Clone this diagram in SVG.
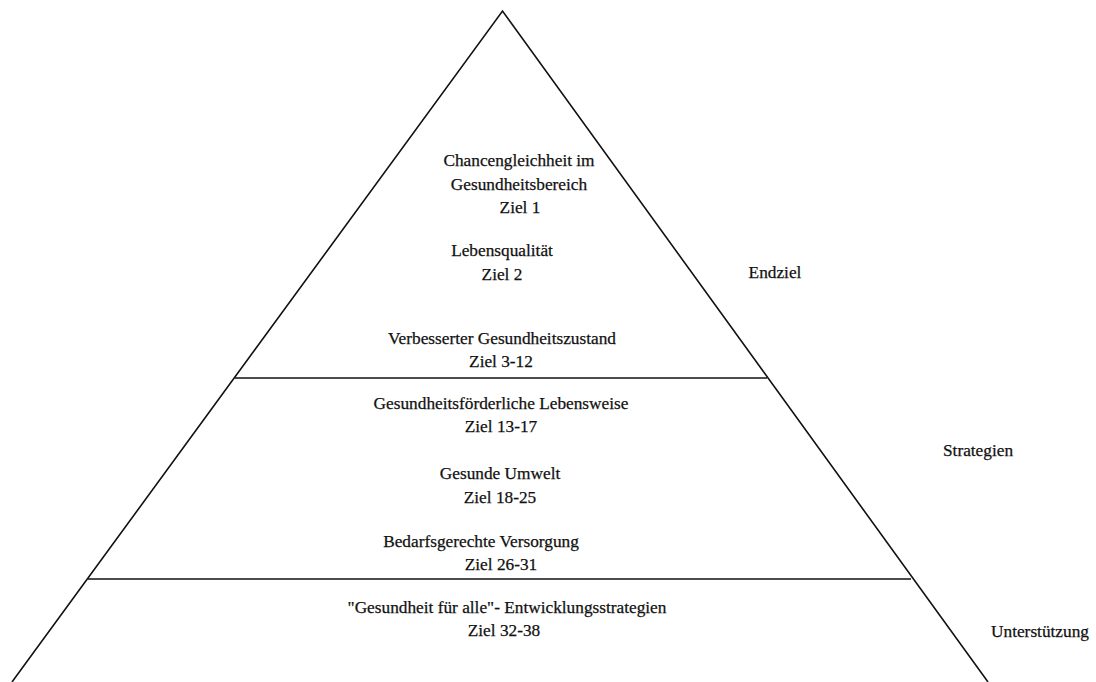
<svg xmlns="http://www.w3.org/2000/svg" width="1096" height="682" viewBox="0 0 1096 682">
<style>
text{font-family:"Liberation Serif","Times New Roman",serif;font-size:17.3px;fill:#111;stroke:#111;stroke-width:0.25;text-anchor:middle}
.ln{stroke:#111;stroke-width:1.6;fill:none}
</style>
<rect width="1096" height="682" fill="#fff"/>
<g id="connectors">
<polyline class="ln" points="12,682 502.5,11 988,682"/>
<line class="ln" x1="235" y1="378" x2="767" y2="378"/>
<line class="ln" x1="88" y1="579" x2="911" y2="579"/>
</g>
<g id="endziel-block">
<text x="519" y="166">Chancengleichheit im</text>
<text x="519" y="190">Gesundheitsbereich</text>
<text x="520" y="213">Ziel 1</text>
<text x="502" y="256">Lebensqualität</text>
<text x="502" y="280">Ziel 2</text>
<text x="502" y="344">Verbesserter Gesundheitszustand</text>
<text x="501" y="367">Ziel 3-12</text>
</g>
<g id="strategien-block">
<text x="501" y="409">Gesundheitsförderliche Lebensweise</text>
<text x="501" y="432">Ziel 13-17</text>
<text x="500" y="479">Gesunde Umwelt</text>
<text x="500" y="503">Ziel 18-25</text>
<text x="481" y="547">Bedarfsgerechte Versorgung</text>
<text x="501" y="570">Ziel 26-31</text>
</g>
<g id="unterstuetzung-block">
<text x="507" y="613">"Gesundheit für alle"- Entwicklungsstrategien</text>
<text x="504" y="636">Ziel 32-38</text>
</g>
<g id="labels">
<text x="775" y="278">Endziel</text>
<text x="978" y="456">Strategien</text>
<text x="1040" y="637">Unterstützung</text>
</g>
</svg>
